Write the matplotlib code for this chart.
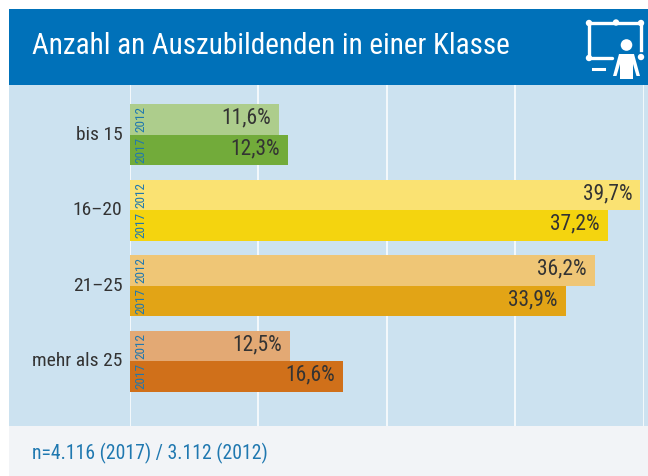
import matplotlib
matplotlib.use('Agg')
import matplotlib.pyplot as plt
from matplotlib import font_manager
from matplotlib.patches import Rectangle, Circle, Polygon
from matplotlib.transforms import ScaledTranslation

# Data
categories = ['bis 15', '16–20', '21–25', 'mehr als 25']
values_2012 = [11.6, 39.7, 36.2, 12.5]
values_2017 = [12.3, 37.2, 33.9, 16.6]
colors_2012 = ['#adcd8c', '#fae272', '#efc676', '#e3a974']
colors_2017 = ['#72ab3a', '#f4d40f', '#e2a416', '#d0701a']
grid_ticks = [0, 10, 20, 30, 40]
title_text = 'Anzahl an Auszubildenden in einer Klasse'
footer_text = 'n=4.116 (2017) / 3.112 (2012)'

W, H = 648, 476
# pick a narrow face if there is one
installed = {f.name for f in font_manager.fontManager.ttflist}
family = 'Open Sans'
for name in ['Liberation Sans Narrow', 'Roboto Condensed', 'Open Sans Condensed']:
    if name in installed:
        family = name
        break
plt.rcParams['font.family'] = [family, 'DejaVu Sans']
BLUE = '#0071b9'
TEXT_BLUE = '#1f78b0'
DARK = '#333333'

fig = plt.figure(figsize=(W / 100, H / 100), dpi=100, facecolor='white')

# background layer in pixel coordinates
bg = fig.add_axes([0, 0, 1, 1])
bg.set_xlim(0, W)
bg.set_ylim(H, 0)
bg.axis('off')
bg.add_patch(Rectangle((9, 9), W - 9, 76, color=BLUE, lw=0))
bg.add_patch(Rectangle((9, 85), W - 9, 341, color='#cce2f0', lw=0))
bg.add_patch(Rectangle((9, 426), W - 9, 50, color='#f2f4f7', lw=0))
bg.text(32, 46, title_text, color='white', fontsize=21, va='center', ha='left')
bg.text(32, 453, footer_text, color=TEXT_BLUE, fontsize=14.2, va='center', ha='left')

# presentation icon
x0, y0, x1, y1 = 589, 23, 642, 58
bg.plot([x1 - 1, x0, x0, 612], [y0, y0, y1, y1], color='white', lw=2.4, solid_capstyle='round')
bg.plot([x1 - 1, x1 - 1], [y0, 50], color='white', lw=2.4)
for px, py in [(x0, y0), (616, y0 - 0.5), (x1 - 1, y0), (x0, y1), (x1 - 1, y1 - 1)]:
    bg.add_patch(Circle((px, py), 3.2, color='white', lw=0))
bg.plot([593, 604], [69, 69], color='white', lw=2.2)
bg.add_patch(Circle((626.5, 45), 5.8, color='white', lw=0))
bg.add_patch(Polygon([(619, 54), (634, 54), (640, 76), (636.5, 76), (633, 64), (633, 79),
                      (620, 79), (620, 64), (616.5, 76), (613, 76)], color='white', lw=0))

# chart axes: 0-40 % spans x 129.5-644 px, plot band y 85-426 px
ax = fig.add_axes([129.5 / W, 1 - 426 / H, (644 - 129.5) / W, 341 / H])
ax.patch.set_alpha(0)
ax.set_xlim(0, 40)
ax.set_ylim(3.86, -0.656)
for s in ax.spines.values():
    s.set_visible(False)
ax.set_xticks(grid_ticks)
ax.set_xticklabels([])
ax.tick_params(length=0)
ax.grid(axis='x', color='white', lw=1.1)
ax.set_axisbelow(True)
ax.set_yticks(range(len(categories)))
ax.set_yticklabels(categories, fontsize=14, color=DARK)
ax.tick_params(axis='y', pad=5)
# labels sit a little above the group centre
for lab in ax.get_yticklabels():
    lab.set_transform(lab.get_transform() + ScaledTranslation(0, 2 / 100, fig.dpi_scale_trans))

h = 0.404
for i in range(len(categories)):
    ax.barh(i - h / 2, values_2012[i], height=h, color=colors_2012[i], lw=0)
    ax.barh(i + h / 2, values_2017[i], height=h, color=colors_2017[i], lw=0)
    ax.annotate(f'{values_2012[i]:.1f}%'.replace('.', ','), (values_2012[i], i - h / 2), xytext=(-8, 1),
                textcoords='offset pixels', ha='right', va='center', fontsize=15.5, color=DARK)
    ax.annotate(f'{values_2017[i]:.1f}%'.replace('.', ','), (values_2017[i], i + h / 2), xytext=(-8, 1),
                textcoords='offset pixels', ha='right', va='center', fontsize=15.5, color=DARK)
    ax.annotate('2012', (0, i - h / 2), xytext=(11.5, 0), textcoords='offset pixels', rotation=90,
                ha='center', va='center', fontsize=9.5, color=TEXT_BLUE)
    ax.annotate('2017', (0, i + h / 2), xytext=(11.5, 0), textcoords='offset pixels', rotation=90,
                ha='center', va='center', fontsize=9.5, color=TEXT_BLUE)

fig.savefig('out.png', dpi=100)
